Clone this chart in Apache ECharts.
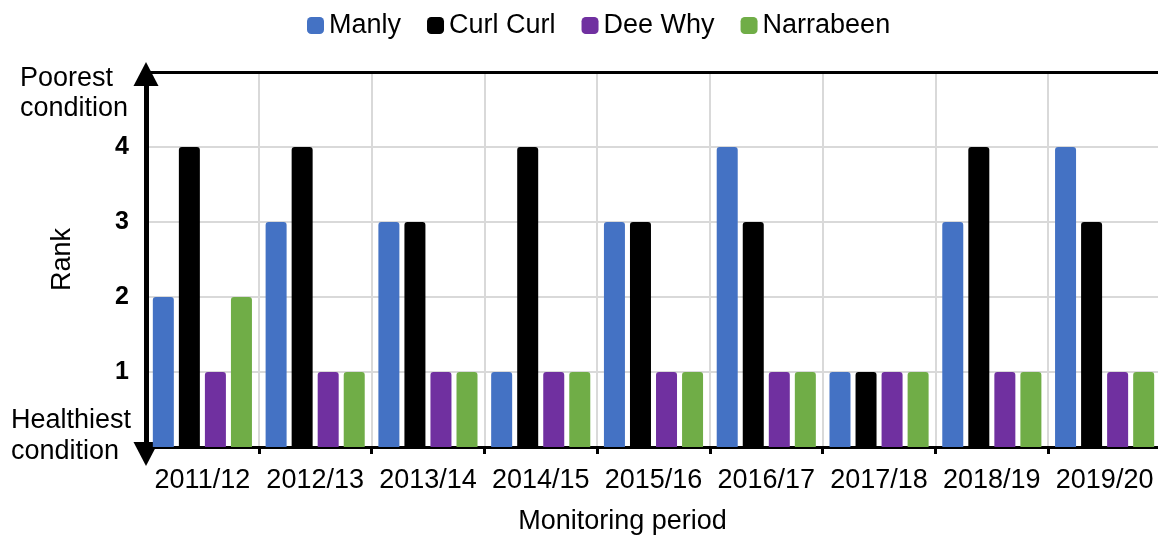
<!DOCTYPE html>
<html>
<head>
<meta charset="utf-8">
<script src="https://cdn.jsdelivr.net/npm/echarts@6/dist/echarts.min.js"></script>
<style>
  html, body { margin: 0; padding: 0; background: #fff; }
  #chart { width: 1158px; height: 535px; }
</style>
</head>
<body>
<div id="chart"></div>
<script>
const periods = ['2011/12', '2012/13', '2013/14', '2014/15', '2015/16', '2016/17', '2017/18', '2018/19', '2019/20']
const manly = [2, 3, 3, 1, 3, 4, 1, 3, 4]
const curlCurl = [4, 4, 3, 4, 3, 3, 1, 4, 3]
const deeWhy = [1, 1, 1, 1, 1, 1, 1, 1, 1]
const narrabeen = [2, 1, 1, 1, 1, 1, 1, 1, 1]
const rankTicks = [1, 2, 3, 4]

const FONT = '"Liberation Sans", Arial, sans-serif'

const chart = echarts.init(document.getElementById('chart'))

const makeBar = (name, data, color) => ({
  name,
  type: 'bar',
  data,
  barWidth: 21,
  barGap: '24%',
  itemStyle: { color, borderRadius: [3, 3, 0, 0] }
})

const option = {
  animation: false,
  textStyle: { fontFamily: FONT },
  legend: {
    left: 307,
    top: 12,
    padding: 0,
    itemWidth: 17,
    itemHeight: 17,
    itemGap: 26,
    icon: 'roundRect',
    textStyle: { fontSize: 27, color: '#000', fontFamily: FONT },
    data: ['Manly', 'Curl Curl', 'Dee Why', 'Narrabeen']
  },
  grid: {
    left: 146,
    top: 72,
    width: 1015,
    height: 375,
    containLabel: false,
    outerBoundsMode: 'none'
  },
  xAxis: [
    {
      type: 'category',
      data: periods,
      name: 'Monitoring period',
      nameLocation: 'middle',
      nameGap: 61,
      nameTextStyle: { fontSize: 27, color: '#000', padding: [0, 62, 0, 0] },
      axisLine: { lineStyle: { color: '#000', width: 3 } },
      axisTick: { show: true, interval: 0, length: 7, lineStyle: { color: '#000', width: 3 } },
      axisLabel: { interval: 0, fontSize: 27, color: '#000', margin: 20 },
      splitLine: { show: true, interval: 0, lineStyle: { color: '#d9d9d9', width: 2 } }
    },
    {
      type: 'category',
      position: 'top',
      data: periods,
      axisLine: { lineStyle: { color: '#000', width: 3 } },
      axisTick: { show: false },
      axisLabel: { show: false },
      splitLine: { show: false }
    }
  ],
  yAxis: {
    type: 'value',
    min: 0,
    max: 5,
    interval: 1,
    name: 'Rank',
    nameLocation: 'middle',
    nameRotate: 90,
    nameGap: 70,
    nameTextStyle: { fontSize: 27, color: '#000' },
    axisLine: {
      show: true,
      lineStyle: { color: '#000', width: 5 },
      symbol: ['triangle', 'triangle'],
      symbolSize: [25, 24],
      symbolOffset: [-7, -2]
    },
    axisTick: { show: false },
    axisLabel: {
      fontSize: 25,
      fontWeight: 'bold',
      color: '#000',
      margin: 17,
      formatter: v => (rankTicks.includes(v) ? String(v) : '')
    },
    splitLine: { show: true, lineStyle: { color: '#d9d9d9', width: 2 } }
  },
  graphic: [
    {
      type: 'text',
      left: 20,
      top: 64,
      style: {
        text: 'Poorest\ncondition',
        font: '27px ' + FONT,
        lineHeight: 30,
        fill: '#000'
      }
    },
    {
      type: 'text',
      left: 11,
      top: 405,
      style: {
        text: 'Healthiest\ncondition',
        font: '27px ' + FONT,
        lineHeight: 31,
        fill: '#000'
      }
    }
  ],
  series: [
    makeBar('Manly', manly, '#4472C4'),
    makeBar('Curl Curl', curlCurl, '#000000'),
    makeBar('Dee Why', deeWhy, '#7030A0'),
    makeBar('Narrabeen', narrabeen, '#70AD47')
  ]
}

chart.setOption(option)
</script>
</body>
</html>
